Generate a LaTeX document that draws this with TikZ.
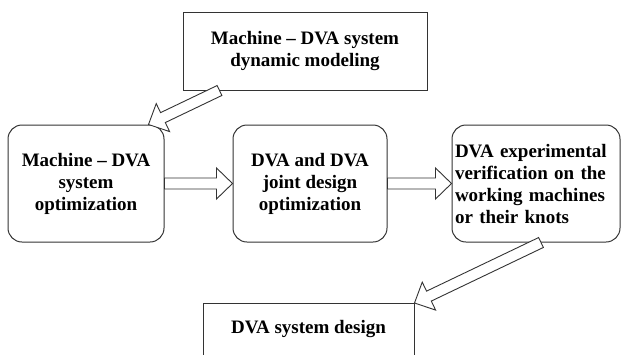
\documentclass[tikz,border=0pt]{standalone}
\usepackage{fontspec}
\setmainfont{Liberation Serif}
\usetikzlibrary{calc}

% hollow block arrow between two named points
\def\shaftw{5.5pt}
\def\headw{15.5pt}
\def\headlen{16pt}
\newcommand{\blockarrow}[2]{%
  \coordinate (ba-s) at (#1);
  \coordinate (ba-e) at (#2);
  \coordinate (ba-h) at ($(ba-e)!\headlen!(ba-s)$);
  \draw [blockline] ($(ba-s)!\shaftw!90:(ba-e)$)
    -- ($(ba-h)!\shaftw!-90:(ba-s)$) -- ($(ba-h)!\headw!-90:(ba-s)$)
    -- (ba-e)
    -- ($(ba-h)!\headw!90:(ba-s)$) -- ($(ba-h)!\shaftw!90:(ba-s)$)
    -- ($(ba-s)!\shaftw!-90:(ba-e)$) -- cycle;
}

\begin{document}
\begin{tikzpicture}[x=1pt, y=-1pt]
  \tikzset{
    box/.style={draw=black!80, line width=1pt, inner sep=0pt, align=center,
      font=\bfseries\fontsize{19}{22}\selectfont},
    roundbox/.style={box, rounded corners=14pt, minimum height=117pt},
    blockline/.style={draw=black!80, line width=0.9pt, fill=white},
  }
  \useasboundingbox (0,0) rectangle (621,354);
  %
  \node [box, minimum width=244pt, minimum height=78pt] (model) at (305,51)
    {Machine -- DVA system\\dynamic modeling};
  %
  \node [roundbox, minimum width=156pt] (optim) at (86,183.5)
    {Machine -- DVA\\system\\optimization};
  \node [roundbox, minimum width=154pt] (joint) at (310,183.5)
    {DVA and DVA\\joint design\\optimization};
  \node [roundbox, text width=162pt, inner xsep=3pt, align=left] (verify) at (536,183.5)
    {DVA experimental\\verification on the\\working machines\\or their knots};
  %
  \node [box, anchor=north, minimum width=211pt, text height=13pt, text depth=10pt,
    inner ysep=17pt] (design) at (308.5,303) {DVA system design};
  %
  \coordinate (from-model) at ([xshift=37pt]model.south west);
  \coordinate (to-optim) at ([xshift=-16pt]optim.north east);
  \coordinate (from-verify) at ([xshift=5pt]verify.south);
  %
  \blockarrow{from-model}{to-optim}
  \blockarrow{optim.east}{joint.west}
  \blockarrow{joint.east}{verify.west}
  \blockarrow{from-verify}{design.north east}
\end{tikzpicture}
\end{document}
